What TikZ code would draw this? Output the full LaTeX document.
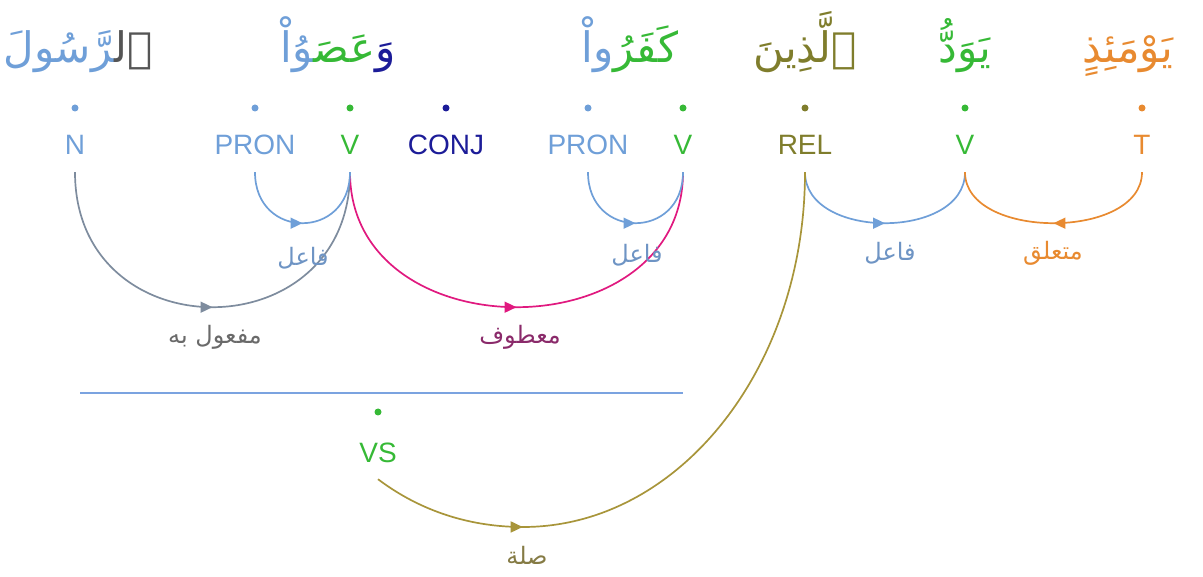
\documentclass[tikz,border=0pt]{standalone}
\usepackage{fontspec}
\setmainfont{Liberation Sans}
\newfontfamily\arabicfont[Script=Arabic]{DejaVu Sans}
\TeXXeTstate=1
\usetikzlibrary{arrows.meta,decorations.markings}
\definecolor{cN}{HTML}{6F9FD8}
\definecolor{cV}{HTML}{36B936}
\definecolor{cConj}{HTML}{1C1C98}
\definecolor{cRel}{HTML}{7F7D2C}
\definecolor{cT}{HTML}{E88A30}
\definecolor{cDet}{HTML}{555555}
\definecolor{cObj}{HTML}{7E8C9E}
\definecolor{cObjL}{HTML}{6A6A6A}
\definecolor{cMat}{HTML}{E0197F}
\definecolor{cMatL}{HTML}{8A2A6A}
\definecolor{cSil}{HTML}{A8953A}
\definecolor{cSilL}{HTML}{857B45}
\definecolor{cFaL}{HTML}{6E94C4}
\definecolor{cLine}{HTML}{7BA3E0}
\begin{document}
\begin{tikzpicture}[x=1pt,y={(0pt,-1pt)},
  tag/.style={text=#1, font=\fontsize{28}{30}\selectfont, inner sep=0pt,
    text height=20pt, text depth=0pt, minimum height=54pt},
  dotn/.style={circle, fill=#1, inner sep=0pt, minimum size=7pt},
  word/.style={font=\arabicfont\fontsize{42}{50}\selectfont, inner sep=0pt, anchor=base},
  lab/.style={text=#1, font=\arabicfont\fontsize{24}{28}\selectfont, inner sep=0pt},
  link/.style={draw=#1, line width=1.7pt},
  midarrow/.style={postaction={decorate}, decoration={markings,
    mark=at position #1 with {\arrow{Triangle[length=12pt,width=11pt]}}}}
]
\useasboundingbox (0,0) rectangle (1203,577);

% ---- words ----
\node[word] (w1) at (78,63) {\textcolor{cN}{‍رَّسُولَ}\textcolor{cDet}{ٱل‍}};
\node[word] (w2) at (338,63) {\textcolor{cN}{‍وُاْ}\textcolor{cV}{عَصَ‍}\textcolor{cConj}{وَ}};
\node[word] (w3) at (630,63) {\textcolor{cN}{واْ}\textcolor{cV}{كَفَرُ}};
\node[word, text=cRel] (w4) at (805,63) {ٱلَّذِينَ};
\node[word, text=cV] (w5) at (965,63) {يَوَدُّ};
\node[word, text=cT] (w6) at (1128,63) {يَوْمَئِذٍ};

% ---- dots ----
\node[dotn=cN] (d1) at (75,108) {};
\node[dotn=cN] (d2) at (255,108) {};
\node[dotn=cV] (d3) at (350,108) {};
\node[dotn=cConj] (d4) at (446,108) {};
\node[dotn=cN] (d5) at (588,108) {};
\node[dotn=cV] (d6) at (683,108) {};
\node[dotn=cRel] (d7) at (805,108) {};
\node[dotn=cV] (d8) at (965,108) {};
\node[dotn=cT] (d9) at (1142,108) {};
\node[dotn=cV] (d10) at (378,412) {};

% ---- tags ----
\node[tag=cN] (tN) at (75,145) {N};
\node[tag=cN] (tP1) at (255,145) {PRON};
\node[tag=cV] (tV1) at (350,145) {V};
\node[tag=cConj] (tC) at (446,145) {CONJ};
\node[tag=cN] (tP2) at (588,145) {PRON};
\node[tag=cV] (tV2) at (683,145) {V};
\node[tag=cRel] (tR) at (805,145) {REL};
\node[tag=cV] (tV3) at (965,145) {V};
\node[tag=cT] (tT) at (1142,145) {T};
\node[tag=cV] (tVS) at (378,452) {VS};

% ---- separator ----
\coordinate (s1) at (80,393);
\coordinate (s2) at (683,393);
\draw[draw=cLine, line width=2.2pt] (s1) -- (s2);

% ---- arcs ----
\draw[link=cObj, midarrow=0.5] (tN.south) .. controls +(0,180) and +(0,180) .. (tV1.south);
\draw[link=cMat, midarrow=0.5] (tV1.south) .. controls +(0,180) and +(0,180) .. (tV2.south);
\draw[link=cN, midarrow=0.5] (tP1.south) .. controls +(0,68) and +(0,68) .. (tV1.south);
\draw[link=cN, midarrow=0.5] (tP2.south) .. controls +(0,68) and +(0,68) .. (tV2.south);
\draw[link=cN, midarrow=0.5] (tR.south) .. controls +(0,68) and +(0,68) .. (tV3.south);
\draw[link=cT, midarrow=0.5] (tT.south) .. controls +(0,68) and +(0,68) .. (tV3.south);
\coordinate (sb) at (523,527);
\draw[link=cSil, midarrow=0.236] (tVS.south) .. controls +(43.8,33) and +(-51.1,0) .. (sb)
   .. controls +(155.7,0) and +(0,196) .. (tR.south);

% ---- labels ----
\node[lab=cObjL] (l1) at (215,337) {\beginR مفعول به\endR};
\node[lab=cFaL] (l2) at (303,258) {\beginR فاعل\endR};
\node[lab=cMatL] (l3) at (520,337) {\beginR معطوف\endR};
\node[lab=cFaL] (l4) at (637,255) {\beginR فاعل\endR};
\node[lab=cFaL] (l5) at (890,253) {\beginR فاعل\endR};
\node[lab=cT] (l6) at (1053,253) {\beginR متعلق\endR};
\node[lab=cSilL] (l7) at (527,555) {\beginR صلة\endR};
\end{tikzpicture}
\end{document}
